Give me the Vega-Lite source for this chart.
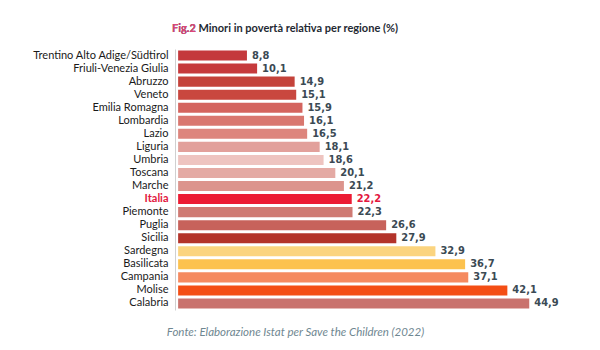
{
  "$schema": "https://vega.github.io/schema/vega-lite/v6.json",
  "width": 400,
  "height": 261,
  "autosize": "none",
  "padding": {"left": 175, "top": 49, "right": 25, "bottom": 40},
  "background": "white",
  "title": {
    "text": "Fig.2 Minori in povertà relativa per regione (%)",
    "subtitle": "Fig.2",
    "anchor": "start",
    "frame": "group",
    "dx": -3,
    "offset": 15,
    "font": "Lato",
    "fontSize": 11,
    "fontWeight": "bold",
    "color": "#1f2a33",
    "subtitleFont": "Lato",
    "subtitleFontSize": 11,
    "subtitleFontWeight": "bold",
    "subtitleColor": "#e0457a",
    "subtitlePadding": -11
  },
  "config": {
    "view": {"stroke": null},
    "locale": {"number": {"decimal": ",", "thousands": ".", "grouping": [3], "currency": ["€", ""]}}
  },
  "data": {
    "values": [
      {"region": "Trentino Alto Adige/Südtirol", "value": 8.8},
      {"region": "Friuli-Venezia Giulia", "value": 10.1},
      {"region": "Abruzzo", "value": 14.9},
      {"region": "Veneto", "value": 15.1},
      {"region": "Emilia Romagna", "value": 15.9},
      {"region": "Lombardia", "value": 16.1},
      {"region": "Lazio", "value": 16.5},
      {"region": "Liguria", "value": 18.1},
      {"region": "Umbria", "value": 18.6},
      {"region": "Toscana", "value": 20.1},
      {"region": "Marche", "value": 21.2},
      {"region": "Italia", "value": 22.2},
      {"region": "Piemonte", "value": 22.3},
      {"region": "Puglia", "value": 26.6},
      {"region": "Sicilia", "value": 27.9},
      {"region": "Sardegna", "value": 32.9},
      {"region": "Basilicata", "value": 36.7},
      {"region": "Campania", "value": 37.1},
      {"region": "Molise", "value": 42.1},
      {"region": "Calabria", "value": 44.9}
    ]
  },
  "encoding": {
    "y": {
      "field": "region",
      "type": "nominal",
      "sort": null,
      "scale": {"paddingInner": 0.23},
      "axis": {
        "title": null,
        "ticks": false,
        "labelPadding": 7,
        "labelFont": "Lato",
        "labelFontSize": 11,
        "labelColor": {"condition": {"test": "datum.value == 'Italia'", "value": "#e3173e"}, "value": "#1a1a1a"},
        "labelFontWeight": {"condition": {"test": "datum.value == 'Italia'", "value": "bold"}, "value": "normal"},
        "domainColor": "#d0d0d0",
        "domainWidth": 1
      }
    },
    "x": {
      "field": "value",
      "type": "quantitative",
      "scale": {"domain": [-0.4, 50.75], "nice": false, "zero": false},
      "axis": {
        "labels": false,
        "ticks": false,
        "domain": false,
        "grid": false,
        "title": "Fonte: Elaborazione Istat per Save the Children (2022)",
        "titleFont": "Lato",
        "titleFontSize": 11.5,
        "titleFontStyle": "italic",
        "titleFontWeight": "normal",
        "titleColor": "#6f8791",
        "titleX": 120,
        "titleY": 22,
        "titleAlign": "center",
        "titleBaseline": "middle"
      }
    }
  },
  "layer": [
    {
      "mark": {"type": "bar"},
      "encoding": {
        "x2": {"datum": 0},
        "color": {
          "field": "region",
          "type": "nominal",
          "legend": null,
          "scale": {
            "domain": ["Trentino Alto Adige/Südtirol", "Friuli-Venezia Giulia", "Abruzzo", "Veneto", "Emilia Romagna", "Lombardia", "Lazio", "Liguria", "Umbria", "Toscana", "Marche", "Italia", "Piemonte", "Puglia", "Sicilia", "Sardegna", "Basilicata", "Campania", "Molise", "Calabria"],
            "range": ["#c4393c", "#c63a3c", "#c4423a", "#c9473f", "#d4645e", "#d9776f", "#dd857d", "#e2a09b", "#eec4c0", "#e4aaa4", "#dc948d", "#ec1c34", "#cf7a73", "#c7625b", "#b3332a", "#fbd47f", "#fcc24f", "#f58a60", "#f44e14", "#c9726d"]
          }
        }
      }
    },
    {
      "mark": {
        "type": "text",
        "align": "left",
        "baseline": "middle",
        "dx": 5,
        "font": "DejaVu Sans Condensed",
        "fontWeight": "bold",
        "fontSize": 11
      },
      "encoding": {
        "text": {"field": "value", "type": "quantitative", "format": ".1f"},
        "color": {"condition": {"test": "datum.region == 'Italia'", "value": "#e3173e"}, "value": "#3b4a54"}
      }
    }
  ]
}
